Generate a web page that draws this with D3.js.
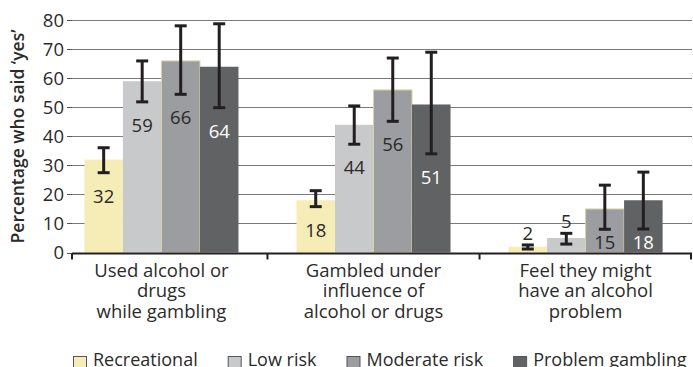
<!DOCTYPE html>
<html>
<head>
<meta charset="utf-8">
<script src="https://cdn.jsdelivr.net/npm/d3@7"></script>
<style>
  html, body { margin: 0; padding: 0; background: #fff; overflow: hidden; }
  svg { display: block; font-family: "Open Sans", "Noto Sans", sans-serif; }
</style>
</head>
<body>
<svg id="chart" width="693" height="367"></svg>
<script>
// Categories (x-axis groups), each label split into lines
const categories = ["used", "gambled", "feel"];
const categoryLines = [
  ["Used alcohol or", "drugs", "while gambling"],
  ["Gambled under", "influence of", "alcohol or drugs"],
  ["Feel they might", "have an alcohol", "problem"]
];

// Series (gambler groups)
const series = ["Recreational", "Low risk", "Moderate risk", "Problem gambling"];
const seriesColors = ["#f6edb6", "#c8c9cb", "#9c9da0", "#616264"];
const seriesStrokes = ["none", "none", "#d9d2a6", "none"];
const labelColors = ["#2b2b2b", "#2b2b2b", "#2b2b2b", "#ffffff"];

// Percentage who said 'yes', per series, ordered by category
const recreational = [32, 18, 2];
const lowRisk = [59, 44, 5];
const moderateRisk = [66, 56, 15];
const problemGambling = [64, 51, 18];

// Confidence interval bounds (lower, upper) per series, ordered by category
const recreationalLow = [27.5, 15.8, 1.2];
const recreationalHigh = [36.1, 21.3, 2.6];
const lowRiskLow = [51.9, 37.3, 2.9];
const lowRiskHigh = [66.0, 50.5, 6.6];
const moderateRiskLow = [54.5, 45.2, 8.0];
const moderateRiskHigh = [78.1, 67.0, 23.2];
const problemGamblingLow = [49.9, 34.0, 8.1];
const problemGamblingHigh = [78.8, 69.0, 27.7];

const yTicks = [0, 10, 20, 30, 40, 50, 60, 70, 80];
const yTitle = "Percentage who said \u2018yes\u2019";

const values = [recreational, lowRisk, moderateRisk, problemGambling];
const lows = [recreationalLow, lowRiskLow, moderateRiskLow, problemGamblingLow];
const highs = [recreationalHigh, lowRiskHigh, moderateRiskHigh, problemGamblingHigh];

const rows = [];
series.forEach((s, si) => {
  categories.forEach((c, ci) => {
    rows.push({ s, si, c, ci, v: values[si][ci], lo: lows[si][ci], hi: highs[si][ci] });
  });
});

const svg = d3.select("#chart");
const ink = "#231f20";

const plotLeft = 72, plotRight = 692;
const y = d3.scaleLinear().domain([0, 80]).range([252.5, 20.3]);
const x0 = d3.scaleBand().domain(categories).range([55.4, 691.6]).padding(0);
const groupPad = 29;
const x1 = d3.scaleBand().domain(series).range([groupPad, x0.bandwidth() - groupPad]).padding(0);

// Gridlines and y tick marks
const grid = svg.append("g");
grid.selectAll("line.grid")
  .data(yTicks.filter(t => t > 0))
  .join("line")
  .attr("x1", plotLeft).attr("x2", plotRight)
  .attr("y1", d => Math.round(y(d)) + 0.5).attr("y2", d => Math.round(y(d)) + 0.5)
  .attr("stroke", "#7a7a7a").attr("stroke-width", 1);
grid.selectAll("line.tick")
  .data(yTicks)
  .join("line")
  .attr("x1", plotLeft - 5).attr("x2", plotLeft)
  .attr("y1", d => Math.round(y(d)) + 0.5).attr("y2", d => Math.round(y(d)) + 0.5)
  .attr("stroke", "#555").attr("stroke-width", 1);

// Y tick labels
svg.append("g").selectAll("text")
  .data(yTicks)
  .join("text")
  .attr("x", 64).attr("y", d => y(d))
  .attr("dy", "0.36em")
  .attr("text-anchor", "end")
  .attr("font-size", 18.5)
  .attr("fill", "#2b2b2b")
  .text(d => d);

// Y title
svg.append("text")
  .attr("transform", `translate(24,${(y(0) + y(80)) / 2}) rotate(-90)`)
  .attr("text-anchor", "middle")
  .attr("font-size", 17.5)
  .attr("font-weight", 600)
  .attr("fill", "#2b2b2b")
  .text(yTitle);

// Bars
svg.append("g").selectAll("rect")
  .data(rows)
  .join("rect")
  .attr("x", d => x0(d.c) + x1(d.s))
  .attr("width", x1.bandwidth())
  .attr("y", d => y(d.v))
  .attr("height", d => y(0) - y(d.v))
  .attr("fill", d => seriesColors[d.si])
  .attr("stroke", d => seriesStrokes[d.si])
  .attr("stroke-width", 1);

// Error bars
const eb = svg.append("g").attr("stroke", ink).attr("stroke-width", 3);
const cx = d => x0(d.c) + x1(d.s) + x1.bandwidth() / 2;
eb.selectAll("line.v").data(rows).join("line")
  .attr("x1", cx).attr("x2", cx)
  .attr("y1", d => y(d.lo)).attr("y2", d => y(d.hi));
eb.selectAll("line.top").data(rows).join("line")
  .attr("x1", d => cx(d) - 6).attr("x2", d => cx(d) + 6)
  .attr("y1", d => y(d.hi)).attr("y2", d => y(d.hi));
eb.selectAll("line.bot").data(rows).join("line")
  .attr("x1", d => cx(d) - 6).attr("x2", d => cx(d) + 6)
  .attr("y1", d => y(d.lo)).attr("y2", d => y(d.lo));

// Value labels: inside the bar below the interval, or above it for short bars
svg.append("g").selectAll("text")
  .data(rows)
  .join("text")
  .attr("x", cx)
  .attr("y", d => d.v < 10 ? y(d.hi) - 5 : Math.min(y(d.lo) + 30, y(0) - 4))
  .attr("text-anchor", "middle")
  .attr("font-size", 18.5)
  .attr("fill", d => d.v < 10 ? "#2b2b2b" : labelColors[d.si])
  .text(d => d.v);

// Category axis
const axisY = y(0) + 1;
svg.append("line")
  .attr("x1", plotLeft).attr("x2", plotRight)
  .attr("y1", axisY).attr("y2", axisY)
  .attr("stroke", ink).attr("stroke-width", 2);
const boundaries = [plotLeft].concat(categories.map(c => x0(c) + x0.bandwidth()));
svg.append("g").selectAll("line")
  .data(boundaries)
  .join("line")
  .attr("x1", d => Math.min(d, plotRight - 1)).attr("x2", d => Math.min(d, plotRight - 1))
  .attr("y1", axisY).attr("y2", axisY + 6)
  .attr("stroke", ink).attr("stroke-width", 2);

// Category labels
const catText = svg.append("g").selectAll("text")
  .data(categories)
  .join("text")
  .attr("text-anchor", "middle")
  .attr("font-size", 18.5)
  .attr("fill", "#2b2b2b");
catText.selectAll("tspan")
  .data((d, i) => categoryLines[i].map(t => ({ t, c: d })))
  .join("tspan")
  .attr("x", d => x0(d.c) + x0.bandwidth() / 2)
  .attr("y", (d, i) => 276.5 + i * 20.7)
  .text(d => d.t);

// Legend, laid out left to right
const legend = svg.append("g");
let lx = 73;
series.forEach((s, i) => {
  legend.append("rect")
    .attr("x", lx + 0.5).attr("y", 356.5)
    .attr("width", 13).attr("height", 13)
    .attr("fill", seriesColors[i])
    .attr("stroke", "#555").attr("stroke-width", 1);
  const t = legend.append("text")
    .attr("x", lx + 20).attr("y", 366)
    .attr("font-size", 18)
    .attr("fill", "#2b2b2b")
    .text(s);
  lx += 20 + t.node().getComputedTextLength() + 30;
});
</script>
</body>
</html>
